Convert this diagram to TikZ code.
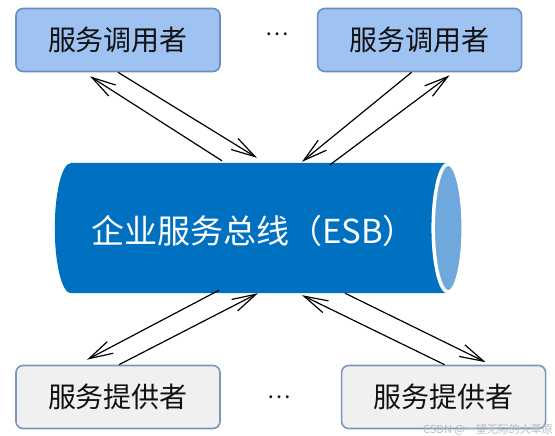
\documentclass[tikz,border=0pt]{standalone}
\usepackage{fontspec}
\setmainfont{Noto Sans CJK SC}
\usepackage{tikz}
\usepackage{xcolor}
\usetikzlibrary{arrows.meta,positioning,calc}
\definecolor{cCall}{HTML}{9EC3F2}
\definecolor{cCallLine}{HTML}{6C8EBF}
\definecolor{cProv}{HTML}{F0F0F0}
\definecolor{cProvLine}{HTML}{7A96BD}
\definecolor{cBus}{HTML}{0070C0}
\definecolor{cEnd}{HTML}{6FA8DC}
\definecolor{cInk}{HTML}{111111}
\definecolor{cMark}{HTML}{BBBBBB}
\tikzset{
  box/.style    ={rounded corners=7pt,line width=1.6pt,align=center,inner sep=0pt,
                  minimum width=204pt,minimum height=63pt,text=cInk,
                  font=\fontsize{28}{32}\selectfont},
  cbox/.style   ={box,draw=cCallLine,fill=cCall},
  pbox/.style   ={box,draw=cProvLine,fill=cProv},
  busbox/.style ={inner sep=0pt,minimum width=409pt,minimum height=130pt},
  bustext/.style={text=white,font=\fontsize{33}{38}\selectfont},
  dots/.style   ={anchor=base,text=cInk,font=\fontsize{22}{26}\selectfont},
  arr/.style    ={-{Straight Barb[length=24pt,width=13pt]},line width=1.2pt,black},
}
\begin{document}
\begin{tikzpicture}[x=1pt,y=1pt]
\useasboundingbox (0,0) rectangle (555,-436);
\node[cbox] (c1) at (118,-40) {服务调用者};
\node[cbox,right=96pt of c1] (c2) {服务调用者};
\node[dots] (d1) at (277,-36) {…};
\node[busbox] (bus) at (259.5,-228) {};
\fill[cBus] ([xshift=16pt]bus.north west) -- ([xshift=-16pt]bus.north east)
  -- ([xshift=-16pt]bus.south east) -- ([xshift=16pt]bus.south west)
  arc[start angle=270,end angle=90,x radius=16pt,y radius=65pt] -- cycle;
\draw[white,line width=3.5pt,fill=cEnd] ([xshift=-16pt]bus.east) ellipse [x radius=15pt,y radius=64pt];
\node[bustext] (esb) at ([shift={(-6,-3)}]bus.center) {企业服务总线（ESB）};
\node[pbox] (p1) at (118,-397) {服务提供者};
\node[pbox,right=120pt of p1] (p2) {服务提供者};
\node[dots] (d2) at (279,-398) {…};
\draw[arr] (c1.south) -- ([shift={(-2.5,5)}]bus.north);
\draw[arr] ([shift={(-37.5,2)}]bus.north) -- ([shift={(-28,-4)}]c1.south);
\draw[arr] ([xshift=-8pt]c2.south) -- ([shift={(42.5,1)}]bus.north);
\draw[arr] ([shift={(70.5,-2)}]bus.north) -- ([shift={(30,-3)}]c2.south);
\draw[arr] ([shift={(-40.5,3)}]bus.south) -- ([shift={(-31,5)}]p1.north);
\draw[arr] ([xshift=1pt]p1.north) -- ([xshift=-1.5pt]bus.south);
\draw[arr] ([xshift=85.5pt]bus.south) -- ([shift={(42,2.5)}]p2.north);
\draw[arr] ([xshift=1pt]p2.north) -- ([shift={(42.5,-2)}]bus.south);
\node[text=cMark,font=\fontsize{11}{13}\selectfont] (mark) at (488,-430) {CSDN @一望无际的大草原};
\end{tikzpicture}
\end{document}
